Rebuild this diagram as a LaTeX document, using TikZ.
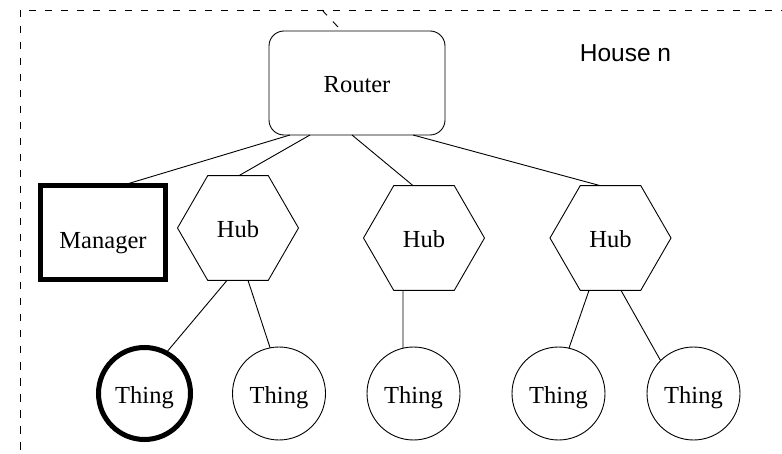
\documentclass[tikz,border=0pt]{standalone}
\usepackage{fontspec}
\setmainfont{Liberation Serif}
\newfontfamily\housefont{Liberation Sans}
\usetikzlibrary{shapes.geometric}
\begin{document}
\begin{tikzpicture}[x=1pt,y=-1pt,
  line width=0.9pt,
  font=\fontsize{24.5}{29}\selectfont,
  every node/.style={outer sep=0pt, inner sep=2pt, text depth=0pt},
  routerbox/.style={draw, rectangle, rounded corners=15pt, minimum width=176pt, minimum height=104pt, text height=19pt},
  managerbox/.style={draw, rectangle, line width=5pt, minimum width=125pt, minimum height=94pt, text height=33pt},
  hubhex/.style={draw, regular polygon, regular polygon sides=6, minimum size=121pt, text height=20pt},
  thingcirc/.style={draw, circle, minimum size=93pt, text height=20pt},
  boldthing/.style={thingcirc, line width=5pt, minimum size=92pt},
  housedash/.style={dash pattern=on 7.5pt off 8.5pt, line width=0.9pt},
  link/.style={line width=0.9pt}
]
\clip (0,0) rectangle (782,454);
\draw[housedash] (20,10) rectangle (800,470);

\node[routerbox] (router) at (357,83) {Router};
\node[managerbox] (manager) at (103,232.5) {Manager};
\node[hubhex] (hub1) at (238,228) {Hub};
\node[hubhex] (hub2) at (424,238) {Hub};
\node[hubhex] (hub3) at (610.5,238) {Hub};
\node[boldthing] (t1) at (144.5,393.5) {Thing};
\node[thingcirc] (t2) at (279,393.5) {Thing};
\node[thingcirc] (t3) at (413.5,393.5) {Thing};
\node[thingcirc] (t4) at (558.5,393.5) {Thing};
\node[thingcirc] (t5) at (693.5,393.5) {Thing};
\node[font=\housefont\fontsize{24.5}{29}\selectfont, text height=17.5pt] (house) at (625.5,52.5) {House n};

\coordinate (hb) at (322,10);
\draw[housedash] ([xshift=-19pt,yshift=4pt]router.north) -- (hb);

\draw[link] ([xshift=-67pt]router.south) -- ([xshift=19pt]manager.north);
\draw[link] ([xshift=-47pt]router.south) -- ([xshift=1pt]hub1.north);
\draw[link] ([xshift=-5pt]router.south) -- ([xshift=-11pt]hub2.north);
\draw[link] ([xshift=56pt]router.south) -- ([xshift=-10.5pt]hub3.north);
\draw[link] ([xshift=-11pt]hub1.south) -- (t1.62);
\draw[link] ([xshift=10pt]hub1.south) -- (t2.101);
\draw[link] ([xshift=-21pt]hub2.south) -- (t3.103);
\draw[link] ([xshift=-21.5pt]hub3.south) -- (t4.77);
\draw[link] ([xshift=10.5pt]hub3.south) -- (t5.135);
\end{tikzpicture}
\end{document}
